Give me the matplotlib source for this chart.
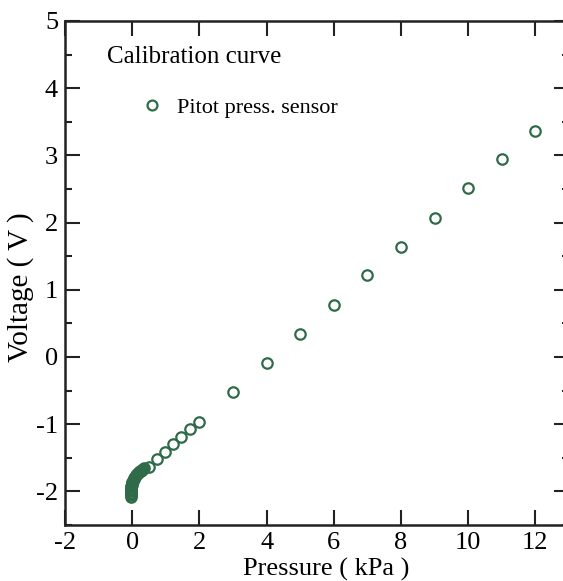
import numpy as np
import matplotlib
matplotlib.use('Agg')
import matplotlib.pyplot as plt
from matplotlib.ticker import MultipleLocator

plt.rcParams['font.family'] = ['Liberation Serif', 'DejaVu Serif']

# low-pressure sweep (dense points near zero)
dense_p = [-0.05, -0.05, -0.05, -0.05, -0.04, -0.04, -0.04, -0.03, -0.03, -0.02,
           -0.01, 0.00, 0.02, 0.04, 0.06, 0.09, 0.12, 0.15, 0.18, 0.21,
           0.24, 0.27, 0.30, 0.33, 0.36]
dense_v = [-2.08, -2.06, -2.04, -2.02, -2.00, -1.98, -1.96, -1.94, -1.92, -1.90,
           -1.88, -1.86, -1.84, -1.82, -1.80, -1.78, -1.76, -1.74, -1.73, -1.71,
           -1.70, -1.69, -1.68, -1.66, -1.65]

# remaining calibration points
pressure = [0.49, 0.75, 0.99, 1.22, 1.46, 1.71, 2, 3, 4, 5, 6, 7, 8, 9, 10, 11, 12]
voltage = [-1.63, -1.52, -1.42, -1.30, -1.19, -1.07, -0.97, -0.52, -0.09, 0.34,
           0.78, 1.22, 1.64, 2.07, 2.51, 2.94, 3.36]

xticks = [-2, 0, 2, 4, 6, 8, 10, 12]
yticks = [-2, -1, 0, 1, 2, 3, 4, 5]

green = '#2f6b48'

fig = plt.figure(figsize=(5.63, 5.81), dpi=100)
ax = fig.add_axes([0.1155, 0.0964, 0.895, 0.8675])

all_p = dense_p + pressure
all_v = dense_v + voltage
ax.plot(all_p, all_v, 'o', ms=7.5, mfc='none', mec=green, mew=1.6,
        label='Pitot press. sensor')

ax.set_xlim(-2, 13)
ax.set_ylim(-2.5, 5)
ax.yaxis.set_minor_locator(MultipleLocator(0.5))
ax.set_xticks(xticks)
ax.set_xticklabels([str(t) for t in xticks])
ax.set_yticks(yticks)
ax.set_yticklabels([str(t) for t in yticks])

ax.tick_params(which='both', direction='in', top=True, right=True,
               labelsize=19, width=1.5, color='#222222', pad=5)
ax.tick_params(which='major', length=11)
ax.tick_params(which='minor', length=5)

for s in ax.spines.values():
    s.set_linewidth(1.8)
    s.set_color('#222222')

ax.set_xlabel('Pressure ( kPa )', fontsize=19)
ax.xaxis.set_label_coords(0.518, -0.065)
ax.set_ylabel('Voltage ( V )', fontsize=21)
ax.yaxis.set_label_coords(-0.062, 0.472)

ax.text(-0.75, 4.46, 'Calibration curve', fontsize=18, va='center', ha='left')
ax.legend(loc='center left', bbox_to_anchor=(0.1508, 0.828), frameon=False,
          fontsize=16, handlelength=1.0, handletextpad=0.6,
          borderaxespad=0, borderpad=0, markerscale=0.95)

fig.savefig('out.png', dpi=100)
